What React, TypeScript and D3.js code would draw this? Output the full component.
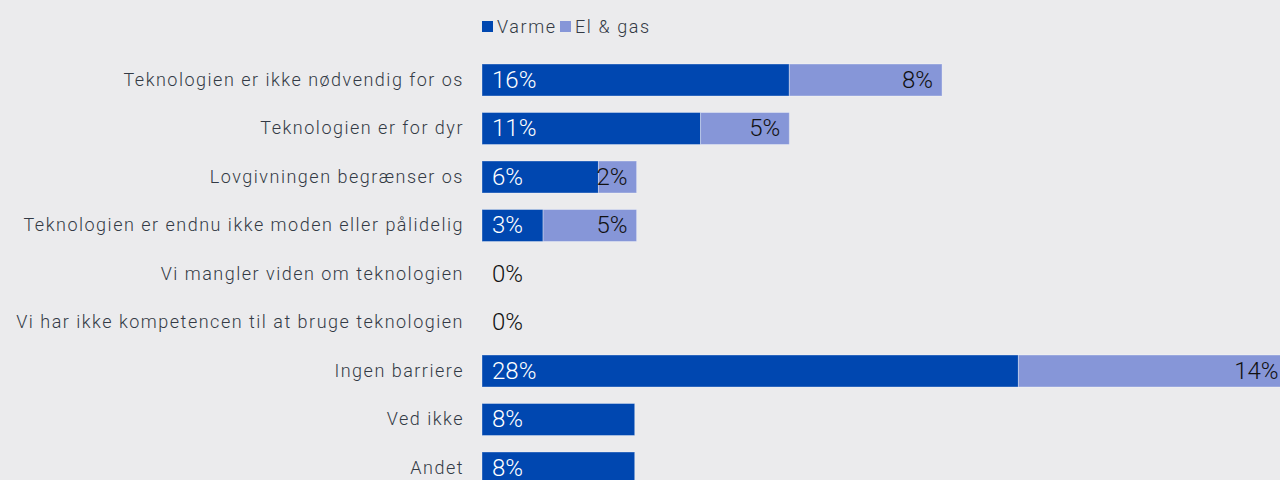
import React from "react";
import * as d3 from "d3";

const categories = [
  "Teknologien er ikke nødvendig for os",
  "Teknologien er for dyr",
  "Lovgivningen begrænser os",
  "Teknologien er endnu ikke moden eller pålidelig",
  "Vi mangler viden om teknologien",
  "Vi har ikke kompetencen til at bruge teknologien",
  "Ingen barriere",
  "Ved ikke",
  "Andet",
];
const varme = [16.1, 11.45, 6.1, 3.2, 0, 0, 28.1, 8.0, 8.0];
const elGas = [8.0, 4.65, 2.0, 4.9, 0, 0, 14.1, 0, 0];
const seriesNames = ["Varme", "El & gas"];
const colors = ["#0047B0", "#8696D8"];

const W = 1280;
const H = 480;
const FONT = "Roboto, 'Open Sans', sans-serif";

export default function App() {
  const x = d3.scaleLinear().domain([0, 41.7]).range([482, 1278]);
  const y = d3
    .scaleBand<string>()
    .domain(categories)
    .range([55.75, 492.25])
    .paddingInner(0.34)
    .paddingOuter(0.17);
  const fmt = (v: number) => `${Math.round(v)}%`;

  return (
    <svg
      width={W}
      height={H}
      style={{ position: "absolute", left: 0, top: 0, background: "#EBEBED" }}
      fontFamily={FONT}
    >
      <rect x={0} y={0} width={W} height={H} fill="#EBEBED" />
      {/* legend */}
      <g>
        <rect x={482} y={21} width={11} height={11} fill={colors[0]} />
        <text x={497} y={33} fontSize={18} fill="#333a45" fontWeight={300} letterSpacing={1.6}>
          {seriesNames[0]}
        </text>
        <rect x={560} y={21} width={11} height={11} fill={colors[1]} />
        <text x={575} y={33} fontSize={18} fill="#333a45" fontWeight={300} letterSpacing={1.6}>
          {seriesNames[1]}
        </text>
      </g>
      {/* category labels */}
      {categories.map((c) => (
        <text
          key={c}
          x={464}
          y={(y(c) as number) + y.bandwidth() / 2 + 5.5}
          textAnchor="end"
          fontSize={18}
          fontWeight={300}
          letterSpacing={1.5}
          fill="#333a45"
        >
          {c}
        </text>
      ))}
      {/* bars */}
      {categories.map((c, i) => {
        const y0 = y(c) as number;
        const bh = y.bandwidth();
        const v1 = varme[i];
        const v2 = elGas[i];
        const ty = y0 + bh / 2 + 7.5;
        return (
          <g key={c}>
            {v1 > 0 && (
              <rect
                x={x(0)}
                y={y0}
                width={x(v1) - x(0)}
                height={bh}
                fill={colors[0]}
                stroke="#ffffff"
                strokeOpacity={0.35}
                strokeWidth={1}
              />
            )}
            {v2 > 0 && (
              <rect
                x={x(v1)}
                y={y0}
                width={x(v1 + v2) - x(v1)}
                height={bh}
                fill={colors[1]}
                stroke="#ffffff"
                strokeOpacity={0.35}
                strokeWidth={1}
              />
            )}
            <text
              x={x(0) + 10}
              y={ty}
              fontSize={24}
              fontWeight={300}
              fill={v1 > 0 ? "#ffffff" : "#111111"}
            >
              {fmt(v1)}
            </text>
            {v2 > 0 && (
              <text
                x={x(v1 + v2) - 9}
                y={ty}
                fontSize={24}
                fontWeight={300}
                textAnchor="end"
                fill="#111111"
              >
                {fmt(v2)}
              </text>
            )}
          </g>
        );
      })}
    </svg>
  );
}
